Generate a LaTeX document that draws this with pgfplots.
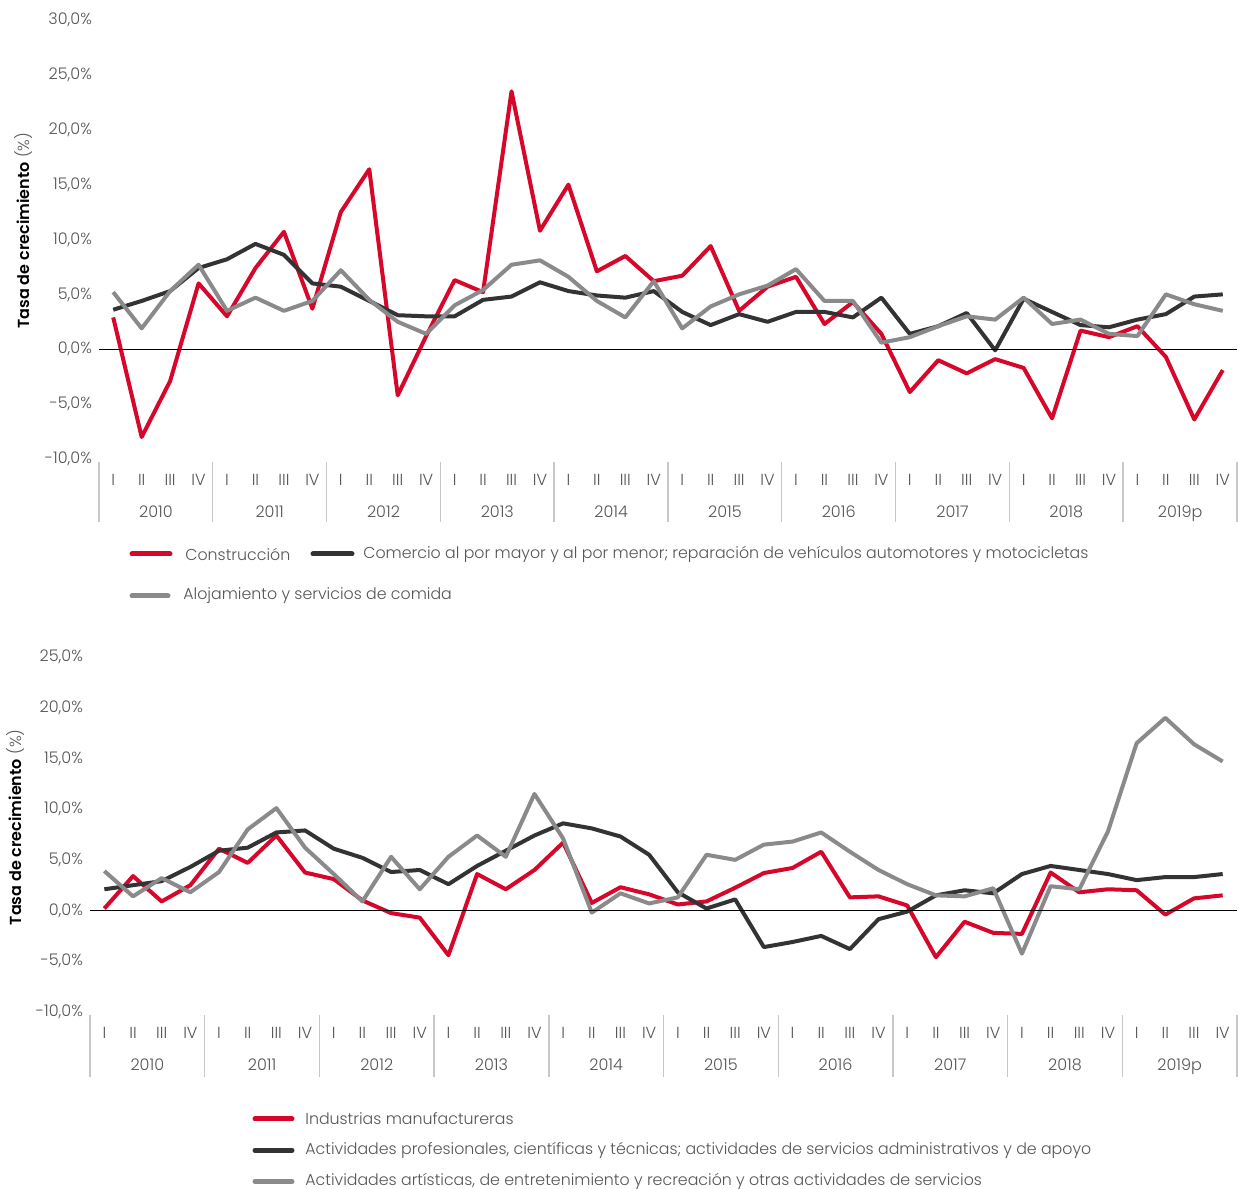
\documentclass[border=0pt]{standalone}
\usepackage{fontspec}
\setmainfont{Poppins}[UprightFont={* Light}, BoldFont={* SemiBold}]
\usepackage{pgfplots}
\pgfplotsset{compat=1.18}
\usepackage{pgfplotstable}
\definecolor{cred}{HTML}{D7062B}
\definecolor{cdark}{HTML}{333333}
\definecolor{cgray}{HTML}{8A8A8A}
\definecolor{ctick}{HTML}{555555}
\definecolor{csep}{HTML}{C8C8C8}

\pgfplotstableread{
x cons com aloj
0 2.9 3.6 5.2
1 -8.0 4.4 1.9
2 -2.9 5.3 5.3
3 6.0 7.4 7.7
4 3.0 8.2 3.5
5 7.4 9.6 4.7
6 10.7 8.6 3.5
7 3.7 6.0 4.4
8 12.5 5.7 7.2
9 16.4 4.4 4.5
10 -4.2 3.1 2.5
11 1.2 3.0 1.4
12 6.3 3.0 4.0
13 5.2 4.5 5.4
14 23.5 4.8 7.7
15 10.8 6.1 8.1
16 15.0 5.3 6.6
17 7.1 4.9 4.4
18 8.5 4.7 2.9
19 6.2 5.3 6.2
20 6.7 3.4 1.9
21 9.4 2.2 3.9
22 3.5 3.2 5.0
23 5.7 2.5 5.8
24 6.6 3.4 7.3
25 2.3 3.4 4.4
26 4.3 2.9 4.4
27 1.4 4.7 0.6
28 -3.9 1.4 1.1
29 -1.0 2.1 2.1
30 -2.2 3.3 3.0
31 -0.9 -0.1 2.7
32 -1.7 4.6 4.7
33 -6.3 3.4 2.3
34 1.7 2.2 2.7
35 1.1 2.0 1.4
36 2.1 2.7 1.2
37 -0.7 3.2 5.0
38 -6.4 4.8 4.1
39 -1.9 5.0 3.5
}\topdata

\pgfplotstableread{
x manu prof art
0 0.2 2.1 3.9
1 3.4 2.5 1.4
2 0.9 2.9 3.2
3 2.5 4.3 1.8
4 6.1 5.9 3.8
5 4.7 6.2 8.0
6 7.4 7.7 10.1
7 3.75 7.9 6.2
8 3.1 6.1 3.6
9 1.0 5.2 0.9
10 -0.25 3.8 5.3
11 -0.7 4.0 2.1
12 -4.4 2.6 5.3
13 3.6 4.4 7.4
14 2.1 5.9 5.3
15 4.0 7.4 11.5
16 6.7 8.6 7.1
17 0.75 8.1 -0.2
18 2.3 7.3 1.7
19 1.6 5.5 0.7
20 0.6 1.8 1.3
21 0.9 0.2 5.5
22 2.25 1.1 5.0
23 3.7 -3.6 6.5
24 4.2 -3.1 6.8
25 5.8 -2.5 7.7
26 1.3 -3.8 5.8
27 1.4 -0.85 4.0
28 0.5 -0.1 2.6
29 -4.6 1.5 1.5
30 -1.1 2.0 1.4
31 -2.2 1.7 2.2
32 -2.3 3.6 -4.25
33 3.75 4.4 2.4
34 1.8 4.0 2.1
35 2.1 3.6 7.8
36 2.0 3.0 16.5
37 -0.4 3.3 19.0
38 1.2 3.3 16.4
39 1.5 3.6 14.7
}\botdata

\pgfplotsset{
  qstyle/.style={
    scale only axis,
    xmin=-0.5, xmax=39.5,
    axis line style={draw=none},
    major tick length=0pt,
    clip=false,
    xtick={0,...,39},
    xticklabels={I,II,III,IV,I,II,III,IV,I,II,III,IV,I,II,III,IV,I,II,III,IV,
                 I,II,III,IV,I,II,III,IV,I,II,III,IV,I,II,III,IV,I,II,III,IV},
    extra x ticks={1.5,5.5,9.5,13.5,17.5,21.5,25.5,29.5,33.5,37.5},
    extra x tick labels={2010,2011,2012,2013,2014,2015,2016,2017,2018,2019p},
    extra x tick style={xticklabel style={yshift=-16pt}},
    xticklabel style={anchor=base, yshift=-13.3pt},
    ticklabel style={font=\fontsize{8}{9.6}\selectfont, text=ctick},
    yticklabel style={/pgf/number format/.cd, fixed, fixed zerofill,
      precision=1, use comma, assume math mode=true},
    yticklabel={\pgfmathprintnumber{\tick}\%},
    every axis plot/.append style={line width=2pt, line join=round, no markers},
  },
}

\begin{document}
\begin{tikzpicture}
\useasboundingbox (0,0) rectangle (619.5pt,594.5pt);

% top chart
\begin{axis}[qstyle, at={(49.5pt,365pt)}, anchor=south west,
  width=569pt, height=219.5pt, ymin=-10, ymax=30, ytick={-10,-5,...,30}]
\addplot[cred] table[x=x,y=cons] {\topdata};
\addplot[cdark] table[x=x,y=com] {\topdata};
\addplot[cgray] table[x=x,y=aloj] {\topdata};
\draw[black, line width=0.6pt] (axis cs:-0.5,0) -- (axis cs:39.5,0);
\pgfplotsinvokeforeach{-0.5,3.5,7.5,11.5,15.5,19.5,23.5,27.5,31.5,35.5,39.5}{
  \draw[csep, line width=0.7pt] (axis cs:#1,-10) ++(0pt,-1.5pt) -- ++(0pt,-30pt);
}
\coordinate (lab1) at (rel axis cs:0,0.52);
\end{axis}
\node[rotate=90, font=\fontsize{8}{9.6}\selectfont] at ([xshift=-37.5pt]lab1)
  {\textbf{Tasa de crecimiento} \textcolor{ctick}{(\%)}};

% bottom chart
\begin{axis}[qstyle, at={(45pt,88.5pt)}, anchor=south west,
  width=573.5pt, height=177.5pt, ymin=-10, ymax=25, ytick={-10,-5,...,25}]
\addplot[cred] table[x=x,y=manu] {\botdata};
\addplot[cdark] table[x=x,y=prof] {\botdata};
\addplot[cgray] table[x=x,y=art] {\botdata};
\draw[black, line width=0.6pt] (axis cs:-0.5,0) -- (axis cs:39.5,0);
\pgfplotsinvokeforeach{-0.5,3.5,7.5,11.5,15.5,19.5,23.5,27.5,31.5,35.5,39.5}{
  \draw[csep, line width=0.7pt] (axis cs:#1,-10) ++(0pt,-1.5pt) -- ++(0pt,-31pt);
}
\coordinate (lab2) at (rel axis cs:0,0.52);
\end{axis}
\node[rotate=90, font=\fontsize{8}{9.6}\selectfont] at ([xshift=-37pt]lab2)
  {\textbf{Tasa de crecimiento} \textcolor{ctick}{(\%)}};

% legends
\begin{scope}[font=\fontsize{7.9}{9.4}\selectfont, text=ctick]
\draw[cred, line width=2.5pt, line cap=round] (66pt,317.5pt) -- (85pt,317.5pt);
\node[anchor=west, inner sep=0pt] at (92.5pt,317.5pt) {Construcción};
\draw[cdark, line width=2.5pt, line cap=round] (156.5pt,317.5pt) -- (176pt,317.5pt);
\node[anchor=west, inner sep=0pt] at (181.5pt,317.5pt) {Comercio al por mayor y al por menor; reparación de vehículos automotores y motocicletas};
\draw[cgray, line width=2.5pt, line cap=round] (66pt,296.5pt) -- (84pt,296.5pt);
\node[anchor=west, inner sep=0pt] at (91.5pt,296.5pt) {Alojamiento y servicios de comida};

\draw[cred, line width=2.5pt, line cap=round] (127.5pt,35pt) -- (146pt,35pt);
\node[anchor=west, inner sep=0pt] at (152.5pt,35pt) {Industrias manufactureras};
\draw[cdark, line width=2.5pt, line cap=round] (127.5pt,19.3pt) -- (146pt,19.3pt);
\node[anchor=west, inner sep=0pt] at (152.5pt,19.3pt) {Actividades profesionales, científicas y técnicas; actividades de servicios administrativos y de apoyo};
\draw[cgray, line width=2.5pt, line cap=round] (127.5pt,3.8pt) -- (146pt,3.8pt);
\node[anchor=west, inner sep=0pt] at (152.5pt,3.8pt) {Actividades artísticas, de entretenimiento y recreación y otras actividades de servicios};
\end{scope}
\end{tikzpicture}
\end{document}
